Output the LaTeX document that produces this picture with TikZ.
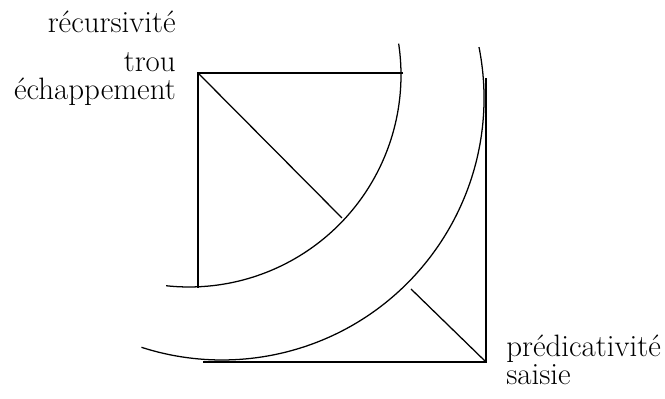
\documentclass[tikz,border=0pt]{standalone}
\usepackage{fontspec}
\usepackage{tikz}
\usetikzlibrary{positioning}
\tikzset{
  trait/.style={draw=black, line width=0.9pt},
  lbl/.style={font=\fontsize{22}{20.2}\selectfont, inner sep=0pt},
}
\begin{document}
\begin{tikzpicture}[x=0.025cm,y=0.025cm]
  \useasboundingbox (0,0) rectangle (665,399);
  % corners of the square
  \coordinate (hg) at (198,326);
  \coordinate (hd) at (403,326);
  \coordinate (bg) at (198,111);
  \coordinate (bd) at (486,37);
  \coordinate (bb) at (203,37);
  \coordinate (dh) at (486,321);
  % ends of the diagonals
  \coordinate (d1) at (342,181);
  \coordinate (d2) at (411,110);
  % centres of the two arcs
  \coordinate (ci) at (189,324);
  \coordinate (co) at (222,301);
  \draw[trait] (hd) -- (hg) -- (bg);
  \draw[trait] (hg) -- (d1);
  \draw[trait] (bb) -- (bd) -- (dh);
  \draw[trait] (bd) -- (d2);
  % arcs
  \draw[trait] (ci) ++(8.5:212) arc[start angle=8.5, end angle=-96.2, radius=212];
  \draw[trait] (co) ++(11.2:262) arc[start angle=11.2, end angle=-107.9, radius=262];
  % labels
  \node[lbl, align=right, anchor=base east] (haut) at (176,299) {récursivité\\[7.4pt]trou\\échappement};
  \node[lbl, align=left, anchor=base west] (bas) at (506,14) {prédicativité\\saisie};
\end{tikzpicture}
\end{document}
